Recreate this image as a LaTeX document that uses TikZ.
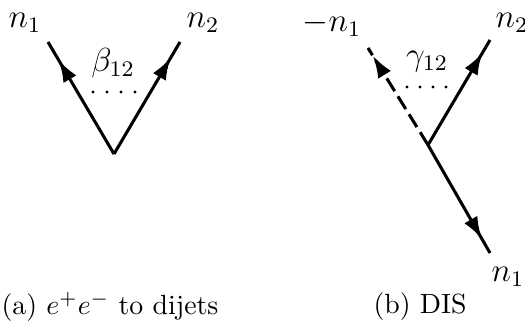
\documentclass[tikz,border=0pt]{standalone}
\usetikzlibrary{arrows.meta,decorations.markings}
\tikzset{
  leg/.style={line width=1.1pt},
  markarrow/.style={postaction={decorate},decoration={markings,
    mark=at position #1 with {\arrow[solid]{Latex[length=8pt,width=5.4pt]}}}},
  lbl/.style={font=\large},
}
\begin{document}
\begin{tikzpicture}[x=0.36pt,y=-0.36pt]
\useasboundingbox (0,0) rectangle (525,332);
% (a) e+e- to dijets
\coordinate (va) at (114,154);
\coordinate (a1end) at (48,42);
\coordinate (a2end) at (180,42);
\node[lbl] (a1) at (25,23) {$n_1$};
\node[lbl] (a2) at (203,23) {$n_2$};
\node[lbl] (beta) at (113,63) {$\beta_{12}$};
\draw[leg,markarrow=0.84] (va) -- (a1end);
\draw[leg,markarrow=0.86] (va) -- (a2end);
\foreach \x in {93,107,121,135} \fill (\x,92) circle[radius=0.6pt];
\node (capa) at (110,307) {(a) $e^+e^-$ to dijets};
% (b) DIS
\coordinate (vb) at (428,145);
\coordinate (b0end) at (368,48);
\coordinate (b1end) at (490,253);
\coordinate (b2end) at (490,40);
\node[lbl] (bm1) at (332,24) {$-n_1$};
\node[lbl] (b2) at (512,23) {$n_2$};
\node[lbl] (b1) at (508,277) {$n_1$};
\node[lbl] (gamma) at (427,62) {$\gamma_{12}$};
\draw[leg,dash pattern=on 5.4pt off 2.2pt,markarrow=0.92] (vb) -- (b0end);
\draw[leg,markarrow=0.88] (vb) -- (b2end);
\draw[leg,markarrow=0.87] (vb) -- (b1end);
\foreach \x in {407,420,433,446} \fill (\x,87) circle[radius=0.6pt];
\node (capb) at (420,307) {(b) DIS};
\end{tikzpicture}
\end{document}
